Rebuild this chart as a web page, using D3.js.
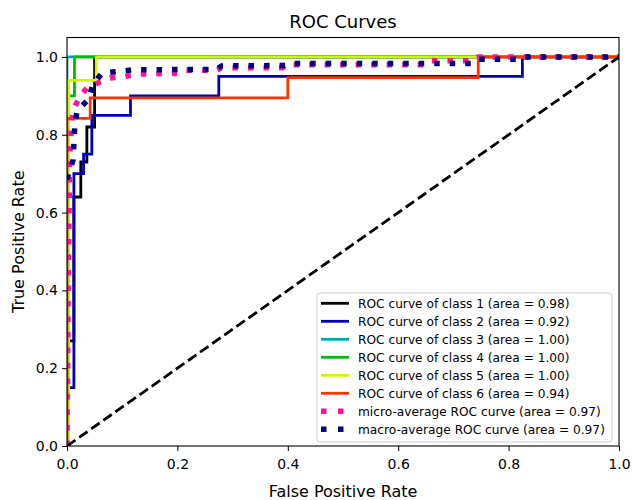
<!DOCTYPE html>
<html>
<head>
<meta charset="utf-8">
<script src="https://cdn.jsdelivr.net/npm/d3@7"></script>
<style>
  body { margin: 0; background: #fff; }
  text { font-family: "DejaVu Sans", sans-serif; }
</style>
</head>
<body>
<div class="canvas"></div>
<script>
// curve data
const classNames = ['class 1', 'class 2', 'class 3', 'class 4', 'class 5', 'class 6'];
const classAreas = ['0.98', '0.92', '1.00', '1.00', '1.00', '0.94'];
const classColors = ['#000000', '#0000bb', '#00a4bb', '#00bb00', '#ccf900', '#ff3300'];

const class1Fpr = [0, 0, 0.0125, 0.0125, 0.025, 0.025, 0.036, 0.036, 0.05, 0.05, 1];
const class1Tpr = [0, 0.27, 0.27, 0.64, 0.64, 0.73, 0.73, 0.82, 0.82, 1, 1];
const class2Fpr = [0, 0, 0.0125, 0.0125, 0.03, 0.03, 0.045, 0.045, 0.115, 0.115, 0.275, 0.275, 0.825, 0.825, 1];
const class2Tpr = [0, 0.15, 0.15, 0.70, 0.70, 0.75, 0.75, 0.85, 0.85, 0.90, 0.90, 0.95, 0.95, 1, 1];
const class3Fpr = [0, 0, 1];
const class3Tpr = [0, 1, 1];
const class4Fpr = [0, 0, 0.0135, 0.0135, 1];
const class4Tpr = [0, 0.90, 0.90, 1, 1];
const class5Fpr = [0, 0.003, 0.003, 0.053, 0.053, 1];
const class5Tpr = [0, 0, 0.94, 0.94, 1, 1];
const class6Fpr = [0, 0, 0.042, 0.042, 0.40, 0.40, 0.745, 0.745, 1];
const class6Tpr = [0, 0.842, 0.842, 0.895, 0.895, 0.947, 0.947, 1, 1];

const microFpr = [0, 0.002, 0.005, 0.008, 0.011, 0.024, 0.036, 0.056, 0.078, 0.105, 0.13, 0.2, 0.21, 0.27, 0.28, 0.39, 0.40, 0.65, 0.66, 0.735, 0.745, 1];
const microTpr = [0, 0.40, 0.75, 0.82, 0.864, 0.90, 0.92, 0.933, 0.946, 0.95, 0.956, 0.958, 0.966, 0.966, 0.972, 0.972, 0.98, 0.98, 0.99, 0.99, 1, 1];
const macroFpr = [0, 0.011, 0.014, 0.018, 0.038, 0.047, 0.063, 0.12, 0.27, 0.28, 0.395, 0.405, 0.735, 0.745, 0.815, 0.825, 1];
const macroTpr = [0.685, 0.735, 0.82, 0.86, 0.89, 0.928, 0.958, 0.967, 0.968, 0.977, 0.978, 0.983, 0.983, 0.994, 0.994, 1, 1];

const xTicks = [0, 0.2, 0.4, 0.6, 0.8, 1.0];
const yTicks = [0, 0.2, 0.4, 0.6, 0.8, 1.0];

const dimensions = { width: 632, height: 500 };
const margin = { left: 67, right: 13, top: 37.5, bottom: 54 };
const plotW = dimensions.width - margin.left - margin.right;
const plotH = dimensions.height - margin.top - margin.bottom;

const svg = d3.select('.canvas')
    .append('svg')
    .attr('width', dimensions.width)
    .attr('height', dimensions.height);

const x = d3.scaleLinear().domain([0, 1]).range([0, plotW]);
const y = d3.scaleLinear().domain([0, 1.05]).range([plotH, 0]);

svg.append('defs').append('clipPath').attr('id', 'plotClip')
    .append('rect').attr('width', plotW).attr('height', plotH);

const graph = svg.append('g')
    .attr('transform', `translate(${margin.left}, ${margin.top})`);

const curves = graph.append('g').attr('clip-path', 'url(#plotClip)');

const line = d3.line()
    .x(d => x(d[0]))
    .y(d => y(d[1]));

const zipped = (fpr, tpr) => fpr.map((f, i) => [f, tpr[i]]);

const classCurves = [
    zipped(class1Fpr, class1Tpr),
    zipped(class2Fpr, class2Tpr),
    zipped(class3Fpr, class3Tpr),
    zipped(class4Fpr, class4Tpr),
    zipped(class5Fpr, class5Tpr),
    zipped(class6Fpr, class6Tpr)
];

classCurves.forEach((points, i) => {
    curves.append('path')
        .attr('d', line(points))
        .attr('fill', 'none')
        .attr('stroke', classColors[i])
        .attr('stroke-width', 2.8);
});

const dotted = { width: 5.5, dash: '5.5 10' };

curves.append('path')
    .attr('d', line(zipped(microFpr, microTpr)))
    .attr('fill', 'none')
    .attr('stroke', '#ff1493')
    .attr('stroke-width', dotted.width)
    .attr('stroke-dasharray', dotted.dash);

curves.append('path')
    .attr('d', line(zipped(macroFpr, macroTpr)))
    .attr('fill', 'none')
    .attr('stroke', '#000080')
    .attr('stroke-width', dotted.width)
    .attr('stroke-dasharray', dotted.dash);

// chance diagonal
curves.append('path')
    .attr('d', line([[0, 0], [1, 1]]))
    .attr('fill', 'none')
    .attr('stroke', '#000')
    .attr('stroke-width', 2.8)
    .attr('stroke-dasharray', '10.3 4.5');

// axes
const xAxis = graph.append('g')
    .attr('transform', `translate(0, ${plotH})`)
    .call(d3.axisBottom(x).tickValues(xTicks).tickFormat(d3.format('.1f')).tickSize(5).tickPadding(8));
const yAxis = graph.append('g')
    .call(d3.axisLeft(y).tickValues(yTicks).tickFormat(d3.format('.1f')).tickSize(5).tickPadding(4));

[xAxis, yAxis].forEach(axis => {
    axis.select('.domain').remove();
    axis.selectAll('line').attr('stroke', '#000').attr('stroke-width', 1);
    axis.selectAll('text')
        .attr('fill', '#000')
        .style('font-family', '"DejaVu Sans", sans-serif')
        .style('font-size', '14px');
});

graph.append('rect')
    .attr('width', plotW)
    .attr('height', plotH)
    .attr('fill', 'none')
    .attr('stroke', '#000')
    .attr('stroke-width', 1.1);

// titles
svg.append('text')
    .attr('x', margin.left + plotW / 2)
    .attr('y', 28)
    .attr('text-anchor', 'middle')
    .style('font-size', '18px')
    .text('ROC Curves');

svg.append('text')
    .attr('x', margin.left + plotW / 2)
    .attr('y', 497)
    .attr('text-anchor', 'middle')
    .style('font-size', '16px')
    .text('False Positive Rate');

svg.append('text')
    .attr('transform', `translate(24, ${margin.top + plotH / 2}) rotate(-90)`)
    .attr('text-anchor', 'middle')
    .style('font-size', '16px')
    .text('True Positive Rate');

// legend
const legendItems = classNames.map((name, i) => ({
    label: `ROC curve of ${name} (area = ${classAreas[i]})`,
    color: classColors[i],
    dash: null
}));
legendItems.push({ label: 'micro-average ROC curve (area = 0.97)', color: '#ff1493', dash: true });
legendItems.push({ label: 'macro-average ROC curve (area = 0.97)', color: '#000080', dash: true });

const legendGroup = svg.append('g')
    .attr('transform', 'translate(317, 293)');

legendGroup.append('rect')
    .attr('width', 295)
    .attr('height', 149)
    .attr('rx', 3)
    .attr('fill', '#fff')
    .attr('fill-opacity', 0.8)
    .attr('stroke', '#cccccc')
    .attr('stroke-width', 1);

const rows = legendGroup.selectAll('g.row')
    .data(legendItems)
    .enter()
    .append('g')
    .attr('class', 'row')
    .attr('transform', (d, i) => `translate(0, ${10.3 + i * 18})`);

rows.append('line')
    .attr('x1', 4)
    .attr('x2', 32)
    .attr('stroke', d => d.color)
    .attr('stroke-width', d => d.dash ? dotted.width : 2.8)
    .attr('stroke-dasharray', d => d.dash ? '5.5 11.5' : null);

rows.append('text')
    .attr('x', 41)
    .attr('dy', '0.35em')
    .style('font-size', '12.2px')
    .text(d => d.label);
</script>
</body>
</html>
